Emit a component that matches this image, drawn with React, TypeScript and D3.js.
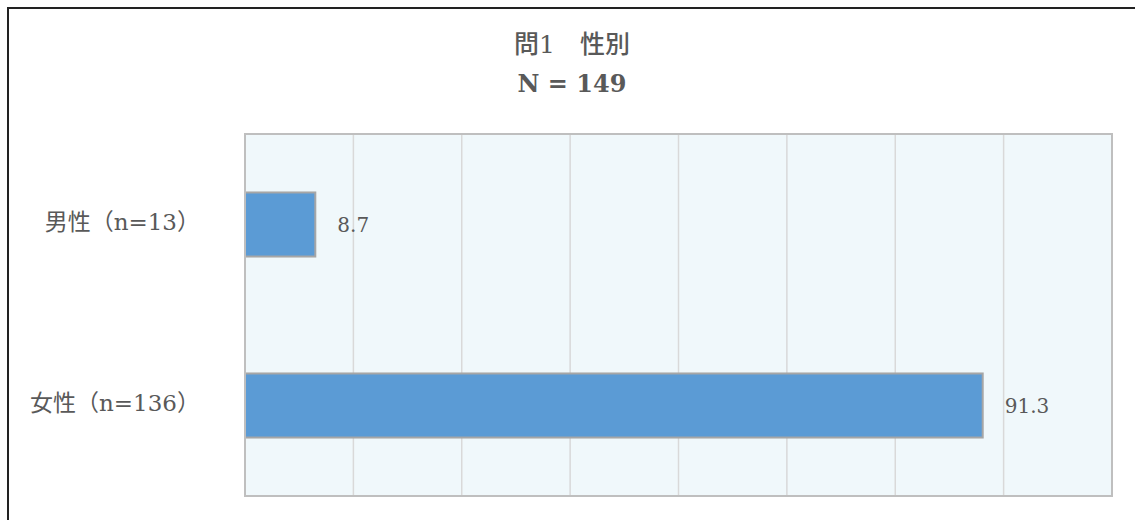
import * as d3 from 'd3';

const categories = ['男性（n=13）', '女性（n=136）'];
const values = [8.7, 91.3];
const titleLines = ['問1\u3000性別', 'N = 149'];
const X_MAX = 107.3;
const GRID_COUNT = 8;

const WIDTH = 1135;
const HEIGHT = 520;
const PLOT = { left: 245, right: 1112, top: 134, bottom: 496 };
const FONT = '"DejaVu Serif", "Noto Sans CJK JP", serif';
const TEXT_COLOR = '#595959';

export default function App() {
  const x = d3.scaleLinear().domain([0, X_MAX]).range([PLOT.left, PLOT.right]);
  const y = d3
    .scaleBand()
    .domain(categories)
    .range([PLOT.top, PLOT.bottom])
    .paddingInner(0.646)
    .paddingOuter(0.323);

  const gridTicks = d3.range(1, GRID_COUNT).map(i => (X_MAX / GRID_COUNT) * i);

  return (
    <svg
      width={WIDTH}
      height={HEIGHT}
      style={{ position: 'absolute', left: 0, top: 0, display: 'block', background: '#ffffff' }}
      fontFamily={FONT}
    >
      {/* outer frame */}
      <rect x={8} y={8} width={WIDTH + 20} height={HEIGHT + 20} fill="none" stroke="#222" strokeWidth={2} />

      {/* title */}
      {titleLines.map((line, i) => (
        <text
          key={line}
          x={572}
          y={46 + i * 39}
          textAnchor="middle"
          dominantBaseline="middle"
          fontSize={i === 0 ? 25 : 24}
          fontWeight={i === 0 ? 500 : 'bold'}
          fill={TEXT_COLOR}
        >
          {line}
        </text>
      ))}

      {/* plot background */}
      <rect
        x={PLOT.left}
        y={PLOT.top}
        width={PLOT.right - PLOT.left}
        height={PLOT.bottom - PLOT.top}
        fill="#f0f8fb"
      />

      {/* gridlines */}
      {gridTicks.map(t => (
        <line key={t} x1={x(t)} x2={x(t)} y1={PLOT.top} y2={PLOT.bottom} stroke="#d9d9d9" strokeWidth={1.5} />
      ))}

      {/* bars */}
      {categories.map((c, i) => (
        <g key={c}>
          <rect
            x={x(0)}
            y={y(c)}
            width={x(values[i]) - x(0)}
            height={y.bandwidth()}
            fill="#5b9bd5"
            stroke="#a6a6a6"
            strokeWidth={2}
          />
          <text
            x={x(values[i]) + 22}
            y={(y(c) ?? 0) + y.bandwidth() / 2 + 2}
            dominantBaseline="middle"
            fontSize={20}
            fill={TEXT_COLOR}
          >
            {values[i].toFixed(1)}
          </text>
          <text
            x={200}
            y={(y(c) ?? 0) + y.bandwidth() / 2 - 1}
            textAnchor="end"
            dominantBaseline="middle"
            fontSize={23}
            fill={TEXT_COLOR}
          >
            {c}
          </text>
        </g>
      ))}

      {/* plot border */}
      <rect
        x={PLOT.left}
        y={PLOT.top}
        width={PLOT.right - PLOT.left}
        height={PLOT.bottom - PLOT.top}
        fill="none"
        stroke="#bfbfbf"
        strokeWidth={2}
      />
    </svg>
  );
}
